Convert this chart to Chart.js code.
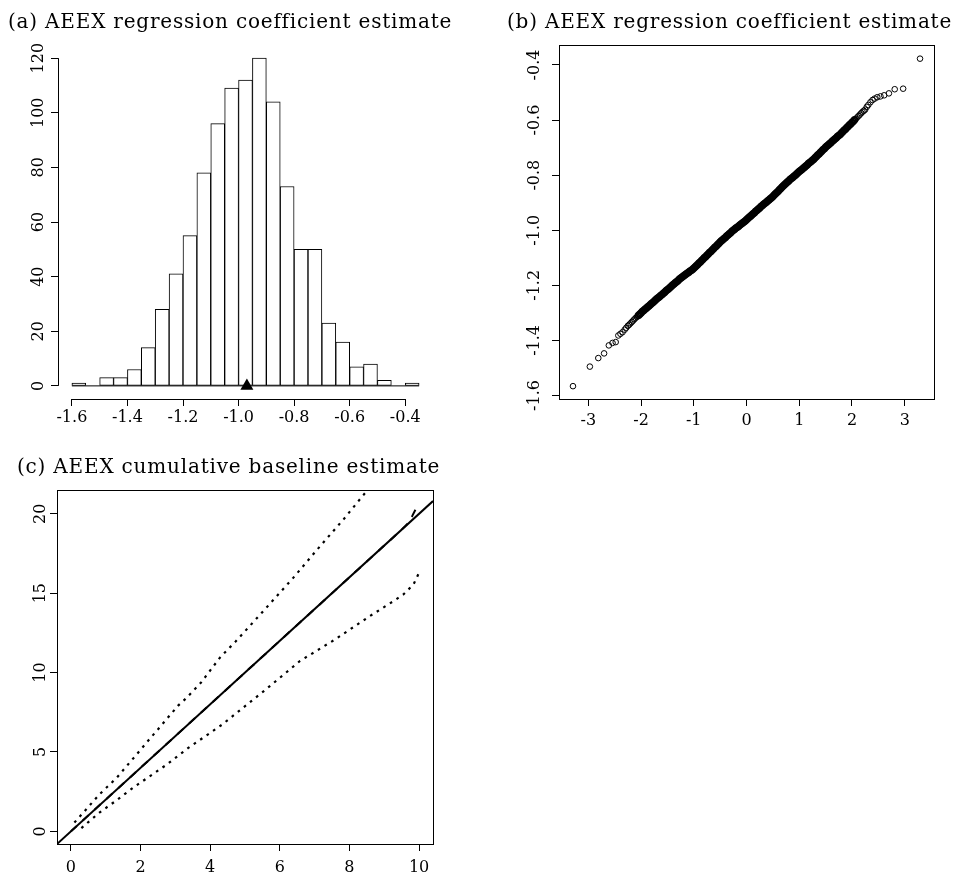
<!DOCTYPE html>
<html>
<head>
<meta charset="utf-8">
<title>AEEX estimates</title>
<script src="https://cdn.jsdelivr.net/npm/chart.js@4.4.1/dist/chart.umd.min.js"></script>
<style>
  html, body { margin: 0; padding: 0; background: #fff; }
  body { width: 955px; height: 873px; position: relative; overflow: hidden; }
  canvas { position: absolute; }
</style>
</head>
<body>
<canvas id="histChart" width="477" height="436" style="left:0;top:0"></canvas>
<canvas id="qqChart" width="478" height="436" style="left:477px;top:0"></canvas>
<canvas id="baseChart" width="477" height="437" style="left:0;top:436px"></canvas>
<script>
// (a) histogram of the coefficient estimates, bins of width 0.05
const histMids = [-1.575, -1.525, -1.475, -1.425, -1.375, -1.325, -1.275, -1.225, -1.175, -1.125, -1.075, -1.025,
  -0.975, -0.925, -0.875, -0.825, -0.775, -0.725, -0.675, -0.625, -0.575, -0.525, -0.475, -0.425, -0.375];
const histCounts = [1, 0, 3, 3, 6, 14, 28, 41, 55, 78, 96, 109, 112, 120, 104, 73, 50, 50, 23, 16, 7, 8, 2, 0, 1];
const histBinWidth = 0.05;
const trueValue = -0.97;
const histXTicks = [-1.6, -1.4, -1.2, -1.0, -0.8, -0.6, -0.4];
const histXLabels = ['-1.6', '-1.4', '-1.2', '-1.0', '-0.8', '-0.6', '-0.4'];
const histYTicks = [0, 20, 40, 60, 80, 100, 120];
const histYLabels = ['0', '20', '40', '60', '80', '100', '120'];

// (b) normal QQ plot: theoretical quantile vs sample quantile
const qqTheo = [-3.29, -2.97, -2.81, -2.70, -2.61, -2.54, -2.48, -2.43, -2.39, -2.35, -2.31, -2.28,
  -2.250, -2.225, -2.200, -2.175, -2.150, -2.125, -2.100, -2.075, -2.050, -2.025,
  -2.000, -1.975, -1.950, -1.925, -1.900, -1.875, -1.850, -1.825, -1.800, -1.775,
  -1.750, -1.725, -1.700, -1.675, -1.650, -1.625, -1.600, -1.575, -1.550, -1.525,
  -1.500, -1.475, -1.450, -1.425, -1.400, -1.375, -1.350, -1.325, -1.300, -1.275,
  -1.250, -1.225, -1.200, -1.175, -1.150, -1.125, -1.100, -1.075, -1.050, -1.025,
  -1.000, -0.975, -0.950, -0.925, -0.900, -0.875, -0.850, -0.825, -0.800, -0.775,
  -0.750, -0.725, -0.700, -0.675, -0.650, -0.625, -0.600, -0.575, -0.550, -0.525,
  -0.500, -0.475, -0.450, -0.425, -0.400, -0.375, -0.350, -0.325, -0.300, -0.275,
  -0.250, -0.225, -0.200, -0.175, -0.150, -0.125, -0.100, -0.075, -0.050, -0.025,
  0.000, 0.025, 0.050, 0.075, 0.100, 0.125, 0.150, 0.175, 0.200, 0.225,
  0.250, 0.275, 0.300, 0.325, 0.350, 0.375, 0.400, 0.425, 0.450, 0.475,
  0.500, 0.525, 0.550, 0.575, 0.600, 0.625, 0.650, 0.675, 0.700, 0.725,
  0.750, 0.775, 0.800, 0.825, 0.850, 0.875, 0.900, 0.925, 0.950, 0.975,
  1.000, 1.025, 1.050, 1.075, 1.100, 1.125, 1.150, 1.175, 1.200, 1.225,
  1.250, 1.275, 1.300, 1.325, 1.350, 1.375, 1.400, 1.425, 1.450, 1.475,
  1.500, 1.525, 1.550, 1.575, 1.600, 1.625, 1.650, 1.675, 1.700, 1.725,
  1.750, 1.775, 1.800, 1.825, 1.850, 1.875, 1.900, 1.925, 1.950, 1.975,
  2.000, 2.025, 2.050, 2.075, 2.100, 2.125, 2.150, 2.175, 2.200, 2.225, 2.250,
  2.28, 2.31, 2.35, 2.39, 2.43, 2.48, 2.54, 2.61, 2.70, 2.81, 2.97, 3.29];
const qqSample = [-1.566, -1.495, -1.464, -1.447, -1.418, -1.409, -1.406, -1.382, -1.376, -1.370, -1.361, -1.354,
  -1.347, -1.343, -1.338, -1.333, -1.328, -1.323, -1.318, -1.314, -1.309, -1.305,
  -1.300, -1.295, -1.291, -1.287, -1.283, -1.279, -1.275, -1.270, -1.266, -1.262,
  -1.258, -1.253, -1.249, -1.245, -1.241, -1.237, -1.233, -1.229, -1.225, -1.220,
  -1.216, -1.212, -1.208, -1.203, -1.199, -1.195, -1.191, -1.187, -1.183, -1.178,
  -1.174, -1.171, -1.167, -1.163, -1.160, -1.156, -1.153, -1.149, -1.146, -1.142,
  -1.138, -1.133, -1.129, -1.124, -1.119, -1.115, -1.110, -1.105, -1.100, -1.096,
  -1.091, -1.086, -1.081, -1.077, -1.072, -1.067, -1.062, -1.058, -1.053, -1.048,
  -1.043, -1.038, -1.034, -1.030, -1.026, -1.021, -1.017, -1.013, -1.009, -1.004,
  -1.000, -0.996, -0.992, -0.989, -0.985, -0.981, -0.977, -0.974, -0.970, -0.966,
  -0.962, -0.957, -0.953, -0.949, -0.945, -0.940, -0.936, -0.931, -0.927, -0.923,
  -0.919, -0.914, -0.910, -0.906, -0.902, -0.898, -0.894, -0.890, -0.886, -0.882,
  -0.877, -0.872, -0.867, -0.863, -0.858, -0.853, -0.848, -0.843, -0.838, -0.834,
  -0.829, -0.825, -0.821, -0.816, -0.812, -0.808, -0.804, -0.800, -0.796, -0.791,
  -0.787, -0.783, -0.779, -0.775, -0.771, -0.767, -0.763, -0.758, -0.754, -0.750,
  -0.746, -0.742, -0.737, -0.732, -0.727, -0.723, -0.718, -0.713, -0.708, -0.704,
  -0.699, -0.694, -0.690, -0.686, -0.682, -0.677, -0.673, -0.669, -0.665, -0.660,
  -0.656, -0.652, -0.647, -0.642, -0.637, -0.633, -0.628, -0.623, -0.618, -0.614,
  -0.609, -0.604, -0.599, -0.595, -0.590, -0.585, -0.580, -0.575, -0.570, -0.566, -0.562,
  -0.552, -0.545, -0.535, -0.527, -0.522, -0.517, -0.514, -0.510, -0.503, -0.488, -0.486, -0.377];
const qqXTicks = [-3, -2, -1, 0, 1, 2, 3];
const qqXLabels = ['-3', '-2', '-1', '0', '1', '2', '3'];
const qqYTicks = [-1.6, -1.4, -1.2, -1.0, -0.8, -0.6, -0.4];
const qqYLabels = ['-1.6', '-1.4', '-1.2', '-1.0', '-0.8', '-0.6', '-0.4'];

// (c) cumulative baseline: true line, estimate and pointwise band
const trueX = [-0.4, 10.4];
const trueY = [-0.8, 20.8];
const estX = [0, 2, 4, 6, 8, 9.5, 9.65, 9.8, 10.0];
const estY = [0, 4, 8, 12, 16, 19.0, 19.33, 19.85, 20.7];
const upperX = [0.1, 0.83, 1.31, 1.89, 2.27, 2.51, 3.08, 3.30, 3.73, 4.28, 4.73, 5.53, 6.39, 7.16, 7.83, 8.40, 8.60];
const upperY = [0.55, 2.35, 3.36, 4.85, 5.84, 6.45, 7.92, 8.36, 9.35, 10.94, 11.96, 13.88, 15.98, 17.97, 19.65, 21.18, 21.7];
const lowerX = [0.3, 0.83, 1.31, 1.79, 2.75, 3.37, 4.33, 5.55, 6.58, 7.59, 8.59, 9.3, 9.55, 9.84, 10.0];
const lowerY = [0.2, 1.2, 1.95, 2.75, 4.2, 5.25, 6.7, 8.85, 10.73, 12.09, 13.56, 14.55, 14.92, 15.55, 16.29];
const baseXTicks = [0, 2, 4, 6, 8, 10];
const baseXLabels = ['0', '2', '4', '6', '8', '10'];
const baseYTicks = [0, 5, 10, 15, 20];
const baseYLabels = ['0', '5', '10', '15', '20'];

const ink = '#000';
const tickFont = { family: 'DejaVu Serif', size: 16 };
const zip = (xs, ys) => xs.map((x, i) => ({ x, y: ys[i] }));

// R-like frame: full box, or axis lines that only span the ticks; plus panel title
const rFrame = {
  id: 'rFrame',
  afterDraw(chart, args, opts) {
    const { ctx, chartArea: a, scales } = chart;
    ctx.save();
    ctx.strokeStyle = ink;
    ctx.lineWidth = 1;
    if (opts.box) {
      ctx.strokeRect(Math.round(a.left) + 0.5, Math.round(a.top) + 0.5,
        Math.round(a.right - a.left), Math.round(a.bottom - a.top));
    } else {
      const xs = scales.x, ys = scales.y;
      const xl = Math.round(a.left) + 0.5, yb = Math.round(a.bottom) + 0.5;
      ctx.beginPath();
      ctx.moveTo(xl, ys.getPixelForValue(ys.ticks[0].value));
      ctx.lineTo(xl, ys.getPixelForValue(ys.ticks[ys.ticks.length - 1].value));
      ctx.moveTo(xs.getPixelForValue(xs.ticks[0].value), yb);
      ctx.lineTo(xs.getPixelForValue(xs.ticks[xs.ticks.length - 1].value), yb);
      ctx.stroke();
    }
    ctx.fillStyle = ink;
    ctx.font = '20px "DejaVu Serif"';
    ctx.letterSpacing = '0.8px';
    ctx.textBaseline = 'alphabetic';
    ctx.textAlign = 'left';
    ctx.fillText(opts.title, opts.tx, opts.ty);
    ctx.restore();
  }
};

function xAxis(min, max, vals, labels, height, pad) {
  return {
    type: 'linear', min, max, offset: false,
    afterBuildTicks: (s) => { s.ticks = vals.map((v) => ({ value: v })); },
    afterFit: (s) => { s.height = height; },
    border: { display: false },
    grid: { drawOnChartArea: false, drawTicks: true, tickLength: 7, color: ink, offset: false },
    ticks: { color: ink, font: tickFont, padding: pad, autoSkip: false, maxRotation: 0,
      callback: (v, i) => labels[i] }
  };
}

function yAxis(min, max, vals, labels, width, pad) {
  return {
    type: 'linear', min, max,
    afterBuildTicks: (s) => { s.ticks = vals.map((v) => ({ value: v })); },
    afterFit: (s) => { s.width = width; },
    border: { display: false },
    grid: { drawOnChartArea: false, drawTicks: true, tickLength: 7, color: ink },
    ticks: { color: ink, font: tickFont, padding: pad, autoSkip: false,
      minRotation: 90, maxRotation: 90, crossAlign: 'center',
      callback: (v, i) => labels[i] }
  };
}

const common = {
  responsive: false,
  animation: false,
  events: [],
  plugins: { legend: { display: false }, tooltip: { enabled: false } }
};

new Chart(document.getElementById('histChart'), {
  type: 'bar',
  data: {
    datasets: [
      {
        type: 'scatter',
        data: [{ x: trueValue, y: 0 }],
        pointStyle: 'triangle', pointRadius: 7.5,
        backgroundColor: ink, borderColor: ink, borderWidth: 0
      },
      {
        type: 'line',
        data: [{ x: histMids[0] - histBinWidth / 2, y: 0 },
               { x: histMids[histMids.length - 1] + histBinWidth / 2, y: 0 }],
        borderColor: ink, borderWidth: 1, pointRadius: 0
      },
      {
        type: 'bar',
        data: zip(histMids, histCounts),
        backgroundColor: '#fff', borderColor: ink, borderWidth: 1,
        borderSkipped: false, barPercentage: 1, categoryPercentage: 1
      }
    ]
  },
  options: {
    ...common,
    layout: { padding: { left: 0, right: 44, top: 45, bottom: 0 } },
    scales: {
      x: xAxis(-1.65, -0.30, histXTicks, histXLabels, 37, 2),
      y: yAxis(-4.8, 124.8, histYTicks, histYLabels, 58, -3)
    },
    plugins: { ...common.plugins,
      rFrame: { box: false, title: '(a) AEEX regression coefficient estimate', tx: 8, ty: 28 } }
  },
  plugins: [rFrame]
});

new Chart(document.getElementById('qqChart'), {
  type: 'scatter',
  data: {
    datasets: [{
      data: zip(qqTheo, qqSample),
      pointStyle: 'circle', pointRadius: 2.8,
      // the crowded middle of the sample merges into a solid band
      borderWidth: (c) => (Math.abs(qqTheo[c.dataIndex]) <= 2.05 ? 1.9 : 1),
      backgroundColor: 'rgba(0,0,0,0)', borderColor: ink
    }]
  },
  options: {
    ...common,
    layout: { padding: { left: 0, right: 21, top: 45, bottom: 0 } },
    scales: {
      x: xAxis(-3.555, 3.555, qqXTicks, qqXLabels, 37, 5.4),
      y: yAxis(-1.6126, -0.3274, qqYTicks, qqYLabels, 82, 2)
    },
    plugins: { ...common.plugins,
      rFrame: { box: true, title: '(b) AEEX regression coefficient estimate', tx: 30, ty: 28 } }
  },
  plugins: [rFrame]
});

new Chart(document.getElementById('baseChart'), {
  type: 'line',
  data: {
    datasets: [
      { data: zip(trueX, trueY), borderColor: ink, borderWidth: 2, pointRadius: 0 },
      { data: zip(estX, estY), borderColor: ink, borderWidth: 2, pointRadius: 0, borderDash: [8, 8] },
      { data: zip(upperX, upperY), borderColor: ink, borderWidth: 2.2, pointRadius: 0, borderDash: [2.6, 5.2] },
      { data: zip(lowerX, lowerY), borderColor: ink, borderWidth: 2.2, pointRadius: 0, borderDash: [2.6, 5.2] }
    ]
  },
  options: {
    ...common,
    layout: { padding: { left: 0, right: 44, top: 54, bottom: 0 } },
    scales: {
      x: xAxis(-0.4, 10.4, baseXTicks, baseXLabels, 29, 7.5),
      y: yAxis(-0.8, 21.5, baseYTicks, baseYLabels, 57, -1)
    },
    plugins: { ...common.plugins,
      rFrame: { box: true, title: '(c) AEEX cumulative baseline estimate', tx: 17, ty: 37 } }
  },
  plugins: [rFrame]
});
</script>
</body>
</html>
